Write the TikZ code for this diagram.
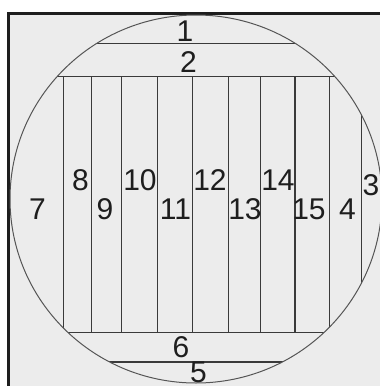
\documentclass[tikz,border=0pt]{standalone}
\usepackage{fontspec}
\setmainfont{Liberation Sans}
\usetikzlibrary{positioning}
\definecolor{wfgray}{HTML}{ECECEC}
\definecolor{wfline}{HTML}{3A3A3A}
\definecolor{wfrim}{HTML}{555555}
\definecolor{wfframe}{HTML}{1E1E1E}

\begin{document}
\begin{tikzpicture}[
    x=1pt, y=-1pt,
    rim/.style={draw=wfrim, line width=1pt},
    cut/.style={draw=wfline, line width=1.4pt},
    num/.style={font=\fontsize{30}{30}\selectfont, text=wfframe, inner sep=0pt}
  ]
    \useasboundingbox (0,0) rectangle (380,386);
    % plate behind the wafer
    \fill[wfgray] (7,12) rectangle (380,386);
    \draw[wfframe, line width=3pt] (8.5,386) -- (8.5,13.5) -- (380,13.5);
    % cuts, kept inside the wafer
    \begin{scope}
      \clip (196,199) ellipse [x radius=186pt, y radius=184pt];
      \draw[cut] (0,43.3) -- (380,43.3);
      \draw[cut] (0,76.7) -- (380,76.7);
      \draw[cut] (0,332.7) -- (380,332.7);
      \draw[cut] (0,362) -- (380,362);
      \draw[cut] (361.7,0) -- (361.7,386);
      \draw[cut] (63.3,76.7) -- (63.3,332.7);
      \draw[cut] (91.7,76.7) -- (91.7,332.7);
      \draw[cut] (121.7,76.7) -- (121.7,332.7);
      \draw[cut] (157.3,76.7) -- (157.3,332.7);
      \draw[cut] (192.7,76.7) -- (192.7,332.7);
      \draw[cut] (228.7,76.7) -- (228.7,332.7);
      \draw[cut] (260.7,76.7) -- (260.7,332.7);
      \draw[cut] (295,76.7) -- (295,332.7);
      \draw[cut] (329.3,76.7) -- (329.3,332.7);
    \end{scope}
    \draw[rim] (196,199) ellipse [x radius=186pt, y radius=184pt];
    % piece numbers
    \node[num] (p1) at (185,31) {1};
    \node[num] (p2) at (188.5,62.5) {2};
    \node[num] (p3) at (371,185) {3};
    \node[num] (p4) at (347.5,209) {4};
    \node[num] (p5) at (198.5,372) {5};
    \node[num] (p6) at (181,347.5) {6};
    \node[num] (p7) at (37.5,209) {7};
    \node[num] (p8) at (80.5,180.5) {8};
    \node[num] (p9) at (105,209) {9};
    \node[num] (p10) at (140,180) {10};
    \node[num] (p11) at (175.5,209) {11};
    \node[num] (p12) at (210,180) {12};
    \node[num] (p13) at (245,209) {13};
    \node[num] (p14) at (278,180) {14};
    \node[num] (p15) at (309,209) {15};
  \end{tikzpicture}
\end{document}
